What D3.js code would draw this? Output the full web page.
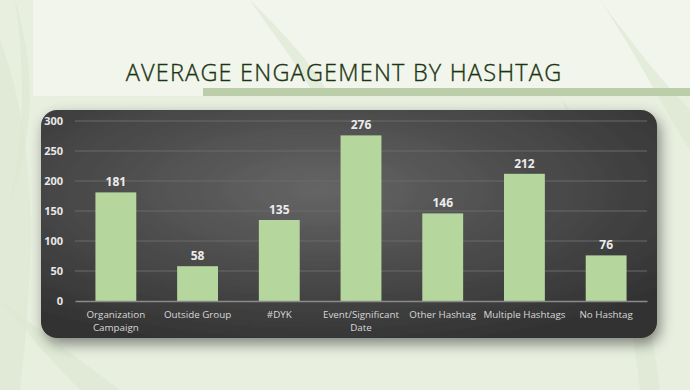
<!DOCTYPE html>
<html>
<head>
<meta charset="utf-8">
<script src="https://cdn.jsdelivr.net/npm/d3@7"></script>
<style>
  html, body { margin: 0; padding: 0; background: #e9f0e0; }
  svg { display: block; }
</style>
</head>
<body>
<svg id="chart" width="690" height="390"></svg>
<script>
var width = 690, height = 390

// data
var categories = ["Organization Campaign", "Outside Group", "#DYK", "Event/Significant Date", "Other Hashtag", "Multiple Hashtags", "No Hashtag"];
var values = [181, 58, 135, 276, 146, 212, 76];
var yTicks = [0, 50, 100, 150, 200, 250, 300];
var title = "AVERAGE ENGAGEMENT BY HASHTAG";

var svg = d3.select("#chart");
var defs = svg.append("defs");

// panel gradient + shadow
var grad = defs.append("radialGradient").attr("id", "panelGrad")
    .attr("cx", "45%").attr("cy", "35%").attr("r", "70%");
grad.append("stop").attr("offset", "0%").attr("stop-color", "#656565");
grad.append("stop").attr("offset", "100%").attr("stop-color", "#333333");

var shadow = defs.append("filter").attr("id", "shadow")
    .attr("x", "-10%").attr("y", "-10%").attr("width", "125%").attr("height", "135%");
shadow.append("feDropShadow").attr("dx", 3).attr("dy", 6).attr("stdDeviation", 7)
    .attr("flood-color", "#000").attr("flood-opacity", 0.45);

/* ============ background ============ */
svg.append("rect").attr("width", width).attr("height", height).attr("fill", "#e8efdf");
svg.append("rect").attr("x", 33).attr("y", 0).attr("width", 657).attr("height", 96).attr("fill", "#f1f5ec");
// faint leafy shapes
var leaves = [
  "M0,40 C30,120 40,220 20,390 L0,390 Z",
  "M15,0 C40,80 30,150 10,200 C25,140 25,70 15,0 Z",
  "M250,0 C280,30 310,60 330,96 L315,96 C295,60 270,30 250,0 Z",
  "M600,0 C640,60 670,120 690,150 L690,110 C660,80 630,40 600,0 Z",
  "M560,96 C600,150 640,230 660,390 L640,390 C625,250 590,160 560,96 Z",
  "M0,300 C40,330 80,360 120,390 L80,390 C50,360 25,330 0,300 Z"
];
svg.append("g").selectAll("path").data(leaves).join("path")
    .attr("d", d => d).attr("fill", "#dce6d1").attr("opacity", 0.6);

/* ============ title ============ */
svg.append("text")
    .attr("x", 344).attr("y", 81)
    .attr("text-anchor", "middle")
    .attr("font-family", "'Open Sans', 'DejaVu Sans', sans-serif")
    .attr("font-weight", 300)
    .attr("font-size", 23.5)
    .attr("letter-spacing", 1.2)
    .attr("fill", "#1b3512")
    .attr("stroke", "#1b3512").attr("stroke-width", 0.35)
    .text(title);

svg.append("rect").attr("x", 203).attr("y", 88).attr("width", 487).attr("height", 8).attr("fill", "#bccdaa");

/* ============ panel ============ */
svg.append("rect")
    .attr("x", 41).attr("y", 110).attr("width", 616).attr("height", 228)
    .attr("rx", 16).attr("ry", 16)
    .attr("fill", "url(#panelGrad)")
    .attr("filter", "url(#shadow)");

var margin = {left: 75, right: 647, top: 121, bottom: 301};

var x = d3.scaleBand().domain(categories).range([margin.left, margin.right]).paddingInner(0.5).paddingOuter(0.25);
var y = d3.scaleLinear().domain([0, 300]).range([margin.bottom, margin.top]);

// gridlines
svg.append("g").selectAll("line").data(yTicks.slice(1)).join("line")
    .attr("x1", margin.left).attr("x2", margin.right)
    .attr("y1", d => y(d)).attr("y2", d => y(d))
    .attr("stroke", "#6a6a6a").attr("stroke-width", 1);

// y axis labels
var yAxis = d3.axisLeft(y).tickValues(yTicks).tickSize(0).tickPadding(12);
var gy = svg.append("g").attr("transform", "translate(" + margin.left + ",0)").call(yAxis);
gy.select(".domain").remove();
gy.selectAll("text")
    .attr("font-family", "'Open Sans', sans-serif")
    .attr("font-weight", 700)
    .attr("font-size", 11)
    .attr("fill", "#e8e8e8");

// bars
svg.append("g").selectAll("rect").data(values).join("rect")
    .attr("x", (d, i) => x(categories[i]))
    .attr("y", d => y(d))
    .attr("width", x.bandwidth())
    .attr("height", d => y(0) - y(d))
    .attr("fill", "#b5d79e");

// value labels
svg.append("g").selectAll("text").data(values).join("text")
    .attr("x", (d, i) => x(categories[i]) + x.bandwidth() / 2)
    .attr("y", d => y(d) - 6)
    .attr("text-anchor", "middle")
    .attr("font-family", "'Open Sans', sans-serif")
    .attr("font-weight", 700)
    .attr("font-size", 12)
    .attr("fill", "#ececec")
    .text(d => d);

// x axis
var xAxis = d3.axisBottom(x).tickSize(0).tickPadding(10);
var gx = svg.append("g").attr("transform", "translate(0," + margin.bottom + ")").call(xAxis);
gx.select(".domain").attr("stroke", "#8a8a8a").attr("stroke-width", 1.5);
gx.selectAll("text")
    .attr("font-family", "'Open Sans', sans-serif")
    .attr("font-size", 9.8)
    .attr("fill", "#d8d8d8")
    .each(function(d) {
      // wrap the two long labels onto two lines like the slide
      var parts = d === "Organization Campaign" ? ["Organization", "Campaign"]
                : d === "Event/Significant Date" ? ["Event/Significant", "Date"] : [d];
      var t = d3.select(this).text(null);
      parts.forEach(function(p, k) {
        t.append("tspan").attr("x", 0).attr("dy", k === 0 ? "0.71em" : "1.3em").text(p);
      });
    });
</script>
</body>
</html>
